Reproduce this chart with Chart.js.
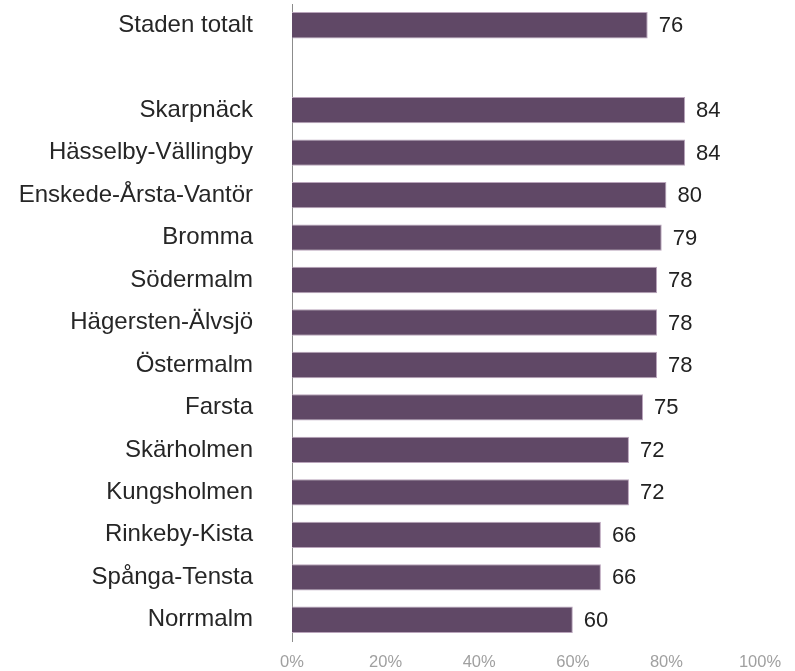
<!DOCTYPE html>
<html>
<head>
<meta charset="utf-8">
<script src="https://cdn.jsdelivr.net/npm/chart.js@4"></script>
<style>
  body { margin: 0; background: #fff; }
  canvas { display: block; }
</style>
</head>
<body>
<canvas id="chart" width="795" height="671"></canvas>
<script>
const categories = ['Staden totalt', '', 'Skarpnäck', 'Hässelby-Vällingby', 'Enskede-Årsta-Vantör',
    'Bromma', 'Södermalm', 'Hägersten-Älvsjö', 'Östermalm', 'Farsta', 'Skärholmen',
    'Kungsholmen', 'Rinkeby-Kista', 'Spånga-Tensta', 'Norrmalm'];
const values = [76, null, 84, 84, 80, 79, 78, 78, 78, 75, 72, 72, 66, 66, 60];
const tickLabels = ['0%', '20%', '40%', '60%', '80%', '100%'];

const fontFamily = '"Liberation Sans", Arial, sans-serif';

// draw the numbers at the end of each bar
const valueLabels = {
    id: 'valueLabels',
    afterDatasetsDraw(chart) {
        const ctx = chart.ctx;
        const meta = chart.getDatasetMeta(0);
        ctx.save();
        ctx.font = '22px ' + fontFamily;
        ctx.fillStyle = '#222';
        ctx.textAlign = 'left';
        ctx.textBaseline = 'middle';
        meta.data.forEach((bar, i) => {
            if (values[i] === null) return;
            ctx.fillText(String(values[i]), bar.x + 11, bar.y + 1);
        });
        ctx.restore();
    }
};

new Chart(document.getElementById('chart'), {
    type: 'bar',
    data: {
        labels: categories,
        datasets: [{
            data: values,
            backgroundColor: '#604866',
            borderColor: '#b9a4bb',
            borderWidth: 1,
            categoryPercentage: 1,
            barPercentage: 0.62
        }]
    },
    options: {
        indexAxis: 'y',
        responsive: false,
        animation: false,
        layout: { padding: { top: 4, right: 35, bottom: 0, left: 0 } },
        plugins: { legend: { display: false }, tooltip: { enabled: false } },
        scales: {
            x: {
                min: 0,
                max: 100,
                grid: { display: false },
                border: { display: false },
                afterFit: (scale) => {
                    scale.height = 30;
                    scale.paddingLeft = 0;
                    scale.paddingRight = 0;
                },
                ticks: {
                    stepSize: 20,
                    padding: 4,
                    color: '#a0a0a0',
                    font: { size: 16.5, family: fontFamily },
                    callback: (v) => tickLabels[v / 20]
                }
            },
            y: {
                grid: { display: false },
                border: { display: true, color: '#8c8c8c', width: 1 },
                afterFit: (scale) => {
                    scale.width = 292;
                    // tick padding would otherwise also pad top and bottom
                    scale.paddingTop = 0;
                    scale.paddingBottom = 0;
                },
                ticks: {
                    padding: 31,
                    color: '#262626',
                    font: { size: 24, family: fontFamily }
                }
            }
        }
    },
    plugins: [valueLabels]
});
</script>
</body>
</html>
